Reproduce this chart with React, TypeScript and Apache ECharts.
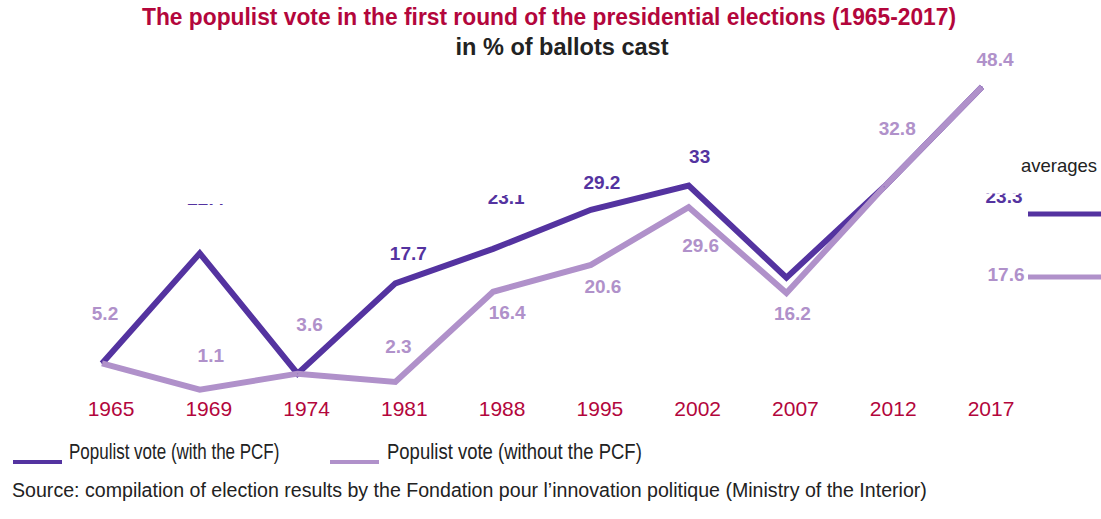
import React, { useEffect, useRef } from "react";
import * as echarts from "echarts";

// election years (first round)
const years = ["1965", "1969", "1974", "1981", "1988", "1995", "2002", "2007", "2012", "2017"];

// populist vote, % of ballots cast
const withPcf = [5.2, 22.4, 3.6, 17.7, 23.1, 29.2, 33, 18.6, 32.8, 48.4];
const withoutPcf = [5.2, 1.1, 3.6, 2.3, 16.4, 20.6, 29.6, 16.2, 32.8, 48.4];

// which points carry a value label
const withPcfLabelShown = [false, true, false, true, true, true, true, false, false, false];
const withoutPcfLabelShown = [true, true, true, true, true, true, true, true, true, true];

// averages over the period
const averages = [23.3, 17.6];

const seriesNames = ["Populist vote (with the PCF)", "Populist vote (without the PCF)"];

// label placement (px, relative to the point)
const withPcfLabelOffset = [
  [0, 0], [6, -55], [0, 0], [13, -30], [13, -51], [11, -27], [11, -29], [0, 0], [0, 0], [0, 0],
];
const withoutPcfLabelOffset = [
  [3, -50], [11, -34], [12, -49], [3, -35], [14, 21], [12, 22], [12, 38], [6, 20], [13, -58], [13, -27],
];

const DARK = "#5433a0";
const LIGHT = "#b091ca";
const RED = "#b3063c";
const INK = "#222222";
const FONT = "'Liberation Sans', Arial, sans-serif";

const App: React.FC = () => {
  const chartRef = useRef<HTMLDivElement>(null);

  useEffect(() => {
    const chartDom = chartRef.current;
    if (!chartDom) return;
    const myChart = echarts.init(chartDom, null, { renderer: "svg" });

    const buildData = (values: number[], shown: boolean[], offsets: number[][]) =>
      values.map((v, i) => ({
        value: v,
        label: { show: shown[i], offset: offsets[i] },
      }));

    const lineSeries = (name: string, color: string, data: any[]) => ({
      name,
      type: "line",
      data,
      symbol: "circle",
      symbolSize: 1,
      silent: true,
      itemStyle: { color },
      lineStyle: { color, width: 6, join: "miter", cap: "butt" },
      label: {
        position: "inside",
        color,
        fontFamily: FONT,
        fontWeight: "bold",
        fontSize: 19,
        formatter: (p: any) => String(p.value),
      },
      emphasis: { disabled: true },
    });

    const txt = (
      text: string,
      x: number,
      y: number,
      opts: { size: number; color: string; bold?: boolean; align?: string; scaleX?: number; z?: number }
    ) => ({
      type: "text",
      x,
      y,
      scaleX: opts.scaleX ?? 1,
      z: opts.z ?? 10,
      silent: true,
      style: {
        text,
        fill: opts.color,
        fontFamily: FONT,
        fontSize: opts.size,
        fontWeight: opts.bold ? "bold" : "normal",
        align: opts.align ?? "left",
        verticalAlign: "middle",
        textAlign: opts.align ?? "left",
        textVerticalAlign: "middle",
      },
    });

    const cover = (x: number, y: number, width: number, height: number) => ({
      type: "rect",
      shape: { x, y, width, height },
      style: { fill: "#ffffff" },
      z: 100,
      silent: true,
    });

    const option: any = {
      animation: false,
      backgroundColor: "#ffffff",
      grid: { left: 102, right: 119, top: 76.7, bottom: 122.3 },
      xAxis: {
        type: "category",
        data: years,
        boundaryGap: false,
        axisLine: { show: false },
        axisTick: { show: false },
        splitLine: { show: false },
        axisLabel: {
          color: RED,
          fontFamily: FONT,
          fontSize: 21,
          margin: 1,
          padding: [0, 0, 0, 18],
        },
      },
      yAxis: {
        type: "value",
        min: 0,
        max: 50,
        show: false,
        splitLine: { show: false },
      },
      series: [
        lineSeries(seriesNames[0], DARK, buildData(withPcf, withPcfLabelShown, withPcfLabelOffset)),
        lineSeries(seriesNames[1], LIGHT, buildData(withoutPcf, withoutPcfLabelShown, withoutPcfLabelOffset)),
      ],
      graphic: [
        txt("The populist vote in the first round of the presidential elections (1965-2017)", 549, 17, {
          size: 24, color: RED, bold: true, align: "center", scaleX: 0.95,
        }),
        txt("in % of ballots cast", 562, 46, { size: 24, color: INK, bold: true, align: "center", scaleX: 0.98 }),
        // averages key
        txt("averages", 1059, 165, { size: 18.5, color: INK, align: "center" }),
        { type: "rect", shape: { x: 1028, y: 211.5, width: 73, height: 5 }, style: { fill: DARK }, silent: true },
        { type: "rect", shape: { x: 1028, y: 274.5, width: 73, height: 5 }, style: { fill: LIGHT }, silent: true },
        txt(String(averages[0]), 1004, 196, { size: 19, color: DARK, bold: true, align: "center" }),
        txt(String(averages[1]), 1006, 274, { size: 19, color: LIGHT, bold: true, align: "center" }),
        // legend
        { type: "rect", shape: { x: 13, y: 460, width: 49, height: 4 }, style: { fill: DARK }, silent: true },
        txt(seriesNames[0], 69, 451, { size: 21.5, color: INK, scaleX: 0.79 }),
        { type: "rect", shape: { x: 330, y: 460, width: 49, height: 4 }, style: { fill: LIGHT }, silent: true },
        txt(seriesNames[1], 387, 451, { size: 21.5, color: INK, scaleX: 0.86 }),
        txt(
          "Source: compilation of election results by the Fondation pour l\u2019innovation politique (Ministry of the Interior)",
          12, 490, { size: 19.6, color: INK }
        ),
        // labels cut off in the original layout
        cover(180, 178, 60, 26),
        cover(478, 178, 60, 17),
        cover(975, 175, 55, 18.5),
      ],
    };

    myChart.setOption(option);

    return () => {
      myChart.dispose();
    };
  }, []);

  return (
    <div
      ref={chartRef}
      style={{ position: "fixed", left: 0, top: 0, width: "1101px", height: "519px" }}
    />
  );
};

export default App;
